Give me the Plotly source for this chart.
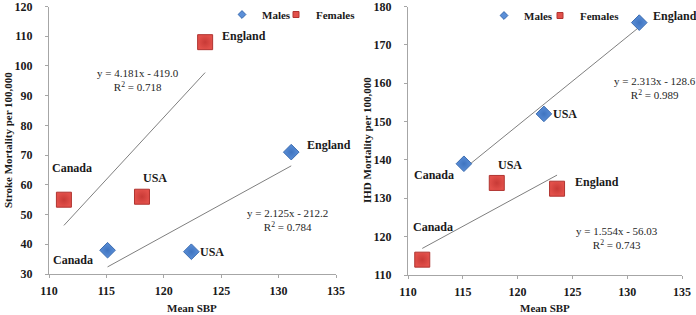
import plotly.graph_objects as go

# ---------------- data ----------------
countries = ["Canada", "USA", "England"]
male_sbp = [115.1, 122.4, 131.1]
female_sbp = [111.3, 118.1, 123.6]

stroke_male = [38.0, 37.5, 71.0]
stroke_female = [55.0, 56.0, 108.0]
ihd_male = [139.0, 152.0, 175.8]
ihd_female = [114.0, 134.0, 132.5]

# trendline coefficients (slope, intercept, R2) as printed on the chart
stroke_male_fit = (2.125, -212.2, 0.784)
stroke_female_fit = (4.181, -419.0, 0.718)
ihd_male_fit = (2.313, -128.6, 0.989)
ihd_female_fit = (1.554, -56.03, 0.743)

x_ticks = [110, 115, 120, 125, 130, 135]
stroke_ticks = [30, 40, 50, 60, 70, 80, 90, 100, 110, 120]
ihd_ticks = [110, 120, 130, 140, 150, 160, 170, 180]

# ---------------- style ----------------
W, H = 696, 315
SERIF = "Liberation Serif"
BLUE, BLUE_LINE = "#5b8fd8", "#3b6cb0"
RED, RED_LINE = "#e2504a", "#b03430"
AX = "#a6a6a6"


def px(xp):
    return xp / W


def py(yp):
    return 1 - yp / H


fig = go.Figure()


def add_panel(xa, ya, m_x, m_y, f_x, f_y, m_fit, f_fit, leg_m, leg_f):
    # trendlines
    for xs, fit in ((m_x, m_fit), (f_x, f_fit)):
        x0, x1 = min(xs), max(xs)
        fig.add_trace(go.Scatter(
            x=[x0, x1], y=[fit[0] * x0 + fit[1], fit[0] * x1 + fit[1]],
            mode="lines", line=dict(color="#7f7f7f", width=1),
            xaxis=xa, yaxis=ya, showlegend=False, hoverinfo="skip"))
    fig.add_trace(go.Scatter(
        x=m_x, y=m_y, mode="markers", xaxis=xa, yaxis=ya, showlegend=False,
        marker=dict(symbol="diamond", size=12, color=BLUE,
                    line=dict(color=BLUE_LINE, width=1),
                    gradient=dict(type="radial", color="#3f74c0"))))
    fig.add_trace(go.Scatter(
        x=f_x, y=f_y, mode="markers", xaxis=xa, yaxis=ya, showlegend=False,
        marker=dict(symbol="square", size=15, color=RED,
                    line=dict(color=RED_LINE, width=1),
                    gradient=dict(type="radial", color="#c83a36"))))
    # legend-only entries
    fig.add_trace(go.Scatter(
        x=[None], y=[None], mode="markers", name="Males", legend=leg_m,
        xaxis=xa, yaxis=ya,
        marker=dict(symbol="diamond", size=6, color=BLUE,
                    line=dict(color=BLUE_LINE, width=1))))
    fig.add_trace(go.Scatter(
        x=[None], y=[None], mode="markers", name="Females", legend=leg_f,
        xaxis=xa, yaxis=ya,
        marker=dict(symbol="square", size=6, color=RED,
                    line=dict(color=RED_LINE, width=1))))


add_panel("x", "y", male_sbp, stroke_male, female_sbp, stroke_female,
          stroke_male_fit, stroke_female_fit, "legend", "legend2")
add_panel("x2", "y2", male_sbp, ihd_male, female_sbp, ihd_female,
          ihd_male_fit, ihd_female_fit, "legend3", "legend4")

lab_font = dict(family=SERIF, size=12, color="#1a1a1a", weight="bold")


def label(xa, ya, x, y, text, anchor, dx, dy):
    fig.add_annotation(x=x, y=y, xref=xa, yref=ya, text=text, showarrow=False,
                       xanchor=anchor, yanchor="middle", xshift=dx, yshift=dy,
                       font=lab_font)


# left panel labels
label("x", "y", female_sbp[2], stroke_female[2], countries[2], "left", 15, 6)
label("x", "y", male_sbp[2], stroke_male[2], countries[2], "left", 14, 7)
label("x", "y", female_sbp[0], stroke_female[0], countries[0], "center", 8, 32)
label("x", "y", female_sbp[1], stroke_female[1], countries[1], "center", 13, 19)
label("x", "y", male_sbp[0], stroke_male[0], countries[0], "center", -35, -10)
label("x", "y", male_sbp[1], stroke_male[1], countries[1], "left", 7, 0)
# right panel labels
label("x2", "y2", male_sbp[2], ihd_male[2], countries[2], "left", 12, 7)
label("x2", "y2", male_sbp[1], ihd_male[1], countries[1], "left", 7, 0)
label("x2", "y2", male_sbp[0], ihd_male[0], countries[0], "center", -30, -11)
label("x2", "y2", female_sbp[1], ihd_female[1], countries[1], "center", 13, 18)
label("x2", "y2", female_sbp[2], ihd_female[2], countries[2], "left", 16, 7)
label("x2", "y2", female_sbp[0], ihd_female[0], countries[0], "center", 11, 33)

eq_font = dict(family=SERIF, size=11, color="#262626")


def equation(fit, cx, cy):
    sign = "-" if fit[1] < 0 else "+"
    txt = (f"y = {fit[0]:.3f}x {sign} {abs(fit[1]):.{2 if abs(fit[1]) < 100 else 1}f}"
           f"<br>R<sup>2</sup> = {fit[2]:.3f}")
    fig.add_annotation(x=px(cx), y=py(cy), xref="paper", yref="paper", text=txt,
                       showarrow=False, xanchor="center", yanchor="middle",
                       font=eq_font, align="center")


equation(stroke_female_fit, 138, 80)
equation(stroke_male_fit, 287, 220)
equation(ihd_male_fit, 655, 88)
equation(ihd_female_fit, 617, 238)

title_font = dict(family=SERIF, size=11, color="#1a1a1a", weight="bold")
for cx, cy, t, ang in ((192, 308, "Mean SBP", 0), (545, 308, "Mean SBP", 0),
                       (8, 140, "Stroke Mortality per 100,000", -90),
                       (367, 140, "IHD Mortality per 100,000", -90)):
    fig.add_annotation(x=px(cx), y=py(cy), xref="paper", yref="paper", text=t,
                       showarrow=False, textangle=ang, font=title_font,
                       xanchor="center", yanchor="middle")

tick_font = dict(family=SERIF, size=12, color="#1a1a1a", weight="bold")
axis_common = dict(showgrid=False, zeroline=False, showline=True, linecolor=AX,
                   linewidth=1, ticks="outside", ticklen=3, tickcolor=AX,
                   tickfont=tick_font, automargin=False,
                   ticklabeloverflow="allow")

leg_font = dict(family=SERIF, size=11, color="#1a1a1a", weight="bold")


def leg(xp, yp):
    return dict(orientation="h", x=px(xp), y=py(yp), xanchor="left",
                yanchor="top", font=leg_font, itemwidth=30,
                bgcolor="rgba(0,0,0,0)")


fig.update_layout(
    width=W, height=H, margin=dict(l=0, r=0, t=0, b=0),
    paper_bgcolor="white", plot_bgcolor="white",
    xaxis=dict(domain=[px(49), px(336)], range=[110, 135], tickvals=x_ticks,
               anchor="y", ticklabelstandoff=3, **axis_common),
    yaxis=dict(domain=[py(274), py(6.5)], range=[30, 120], tickvals=stroke_ticks,
               anchor="x", ticklabelstandoff=10, **axis_common),
    xaxis2=dict(domain=[px(408), px(682)], range=[110, 135], tickvals=x_ticks,
                anchor="y2", ticklabelstandoff=3, **axis_common),
    yaxis2=dict(domain=[py(275), py(6.5)], range=[110, 180], tickvals=ihd_ticks,
                anchor="x2", ticklabelstandoff=10, **axis_common),
    legend=leg(222, 0),
    legend2=leg(276, 0),
    legend3=leg(484, 1),
    legend4=leg(540, 1),
    showlegend=True,
)

fig.write_html(
    "out.html",
    config={"displayModeBar": False},
    post_script="document.body.style.margin='0';document.body.style.overflow='hidden';",
)
